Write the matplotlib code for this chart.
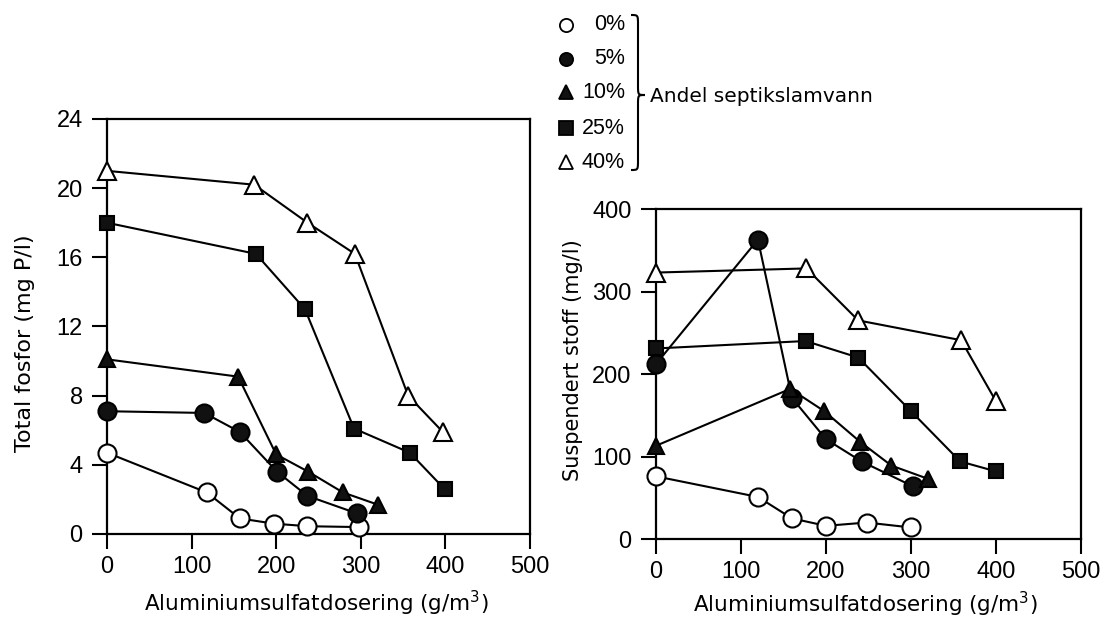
import matplotlib
matplotlib.use('Agg')
import matplotlib.pyplot as plt
from matplotlib.path import Path
from matplotlib.patches import PathPatch

plt.rcParams['font.family'] = ['Liberation Sans', 'DejaVu Sans']

shares = ['0%', '5%', '10%', '25%', '40%']
markers = ['o', 'o', '^', 's', '^']
faces = ['white', '#111111', '#111111', '#111111', 'white']
sizes = [13, 13, 12, 10, 12.5]

# Total fosfor (mg P/l) mot dosering (g/m3)
p_dose_0 = [0, 118, 157, 197, 237, 298]
p_val_0 = [4.7, 2.4, 0.9, 0.6, 0.45, 0.4]
p_dose_5 = [0, 115, 157, 201, 237, 295]
p_val_5 = [7.1, 7.0, 5.9, 3.6, 2.2, 1.2]
p_dose_10 = [0, 155, 200, 238, 279, 320]
p_val_10 = [10.1, 9.1, 4.6, 3.6, 2.4, 1.7]
p_dose_25 = [0, 176, 234, 292, 358, 399]
p_val_25 = [18.0, 16.2, 13.0, 6.1, 4.7, 2.6]
p_dose_40 = [0, 174, 237, 293, 356, 397]
p_val_40 = [21.0, 20.2, 18.0, 16.2, 8.0, 5.9]

# Suspendert stoff (mg/l) mot dosering (g/m3)
s_dose_0 = [0, 120, 160, 200, 248, 300]
s_val_0 = [76, 51, 25, 16, 20, 14]
s_dose_5 = [0, 120, 160, 200, 242, 302]
s_val_5 = [212, 363, 171, 121, 94, 64]
s_dose_10 = [0, 158, 198, 240, 277, 320]
s_val_10 = [113, 182, 155, 118, 89, 73]
s_dose_25 = [0, 176, 238, 300, 358, 400]
s_val_25 = [231, 240, 220, 155, 94, 82]
s_dose_40 = [0, 177, 238, 359, 400]
s_val_40 = [323, 328, 265, 241, 167]

p_series = [(p_dose_0, p_val_0), (p_dose_5, p_val_5), (p_dose_10, p_val_10),
            (p_dose_25, p_val_25), (p_dose_40, p_val_40)]
s_series = [(s_dose_0, s_val_0), (s_dose_5, s_val_5), (s_dose_10, s_val_10),
            (s_dose_25, s_val_25), (s_dose_40, s_val_40)]

fig = plt.figure(figsize=(11.08, 6.21), dpi=100)

# overlay in pixel coordinates for the legend block
lg = fig.add_axes([0, 0, 1, 1])
lg.set_xlim(0, 1108)
lg.set_ylim(621, 0)
lg.axis('off')

label_font = ['DejaVu Sans']


def style_axes(ax, ylim, yticks, ylabel, ysize, ylab_xy, xlab_xy):
    ax.set_xlim(0, 500)
    ax.set_ylim(*ylim)
    ax.set_xticks([0, 100, 200, 300, 400, 500])
    ax.set_yticks(yticks)
    ax.tick_params(direction='out', length=10.5, width=1.5, labelsize=17)
    ax.tick_params(axis='x', pad=5)
    ax.tick_params(axis='y', pad=7)
    for sp in ax.spines.values():
        sp.set_linewidth(1.6)
    ax.set_xlabel('Aluminiumsulfatdosering (g/m$^3$)', fontsize=15.5, family=label_font)
    ax.set_ylabel(ylabel, fontsize=ysize, family=label_font)
    ax.yaxis.set_label_coords(*ylab_xy)
    ax.xaxis.set_label_coords(*xlab_xy)
    ax.patch.set_alpha(0)


def draw(ax, series):
    for (x, y), m, fc, ms in zip(series, markers, faces, sizes):
        ax.plot(x, y, color='black', lw=1.5, marker=m, markersize=ms,
                markerfacecolor=fc, markeredgecolor='black', markeredgewidth=1.5,
                clip_on=False, zorder=3)


ax1 = fig.add_axes([0.0966, 0.1401, 0.3817, 0.6683])
draw(ax1, p_series)
style_axes(ax1, (0, 24), [0, 4, 8, 12, 16, 20, 24], 'Total fosfor (mg P/l)', 16,
           (-0.170, 0.46), (0.494, -0.132))

ax2 = fig.add_axes([0.592, 0.132, 0.3836, 0.5314])
draw(ax2, s_series)
style_axes(ax2, (0, 400), [0, 100, 200, 300, 400], 'Suspendert stoff (mg/l)', 15,
           (-0.172, 0.542), (0.492, -0.155))

# legend rows
row_y = [25, 59, 92, 128, 162]
for lab, m, fc, yy in zip(shares, markers, faces, row_y):
    lg.plot([566], [yy], marker=m, markersize=9.5, markerfacecolor=fc,
            markeredgecolor='black', markeredgewidth=1.3, linestyle='none')
    lg.text(625, yy, lab, ha='right', va='center', fontsize=15.5)

# curly brace
x0, x1, xm = 631, 645, 638
y0, y1, ym, d = 15, 170, 95, 10
verts = [(x0, y0), (xm, y0), (xm, y0), (xm, y0 + d),
         (xm, ym - d),
         (xm, ym), (xm, ym), (x1, ym),
         (xm, ym), (xm, ym), (xm, ym + d),
         (xm, y1 - d),
         (xm, y1), (xm, y1), (x0, y1)]
codes = [Path.MOVETO, Path.CURVE4, Path.CURVE4, Path.CURVE4,
         Path.LINETO,
         Path.CURVE4, Path.CURVE4, Path.CURVE4,
         Path.CURVE4, Path.CURVE4, Path.CURVE4,
         Path.LINETO,
         Path.CURVE4, Path.CURVE4, Path.CURVE4]
lg.add_patch(PathPatch(Path(verts, codes), fill=False, lw=1.5, edgecolor='black'))
lg.text(650, 97, 'Andel septikslamvann', ha='left', va='center', fontsize=14.5,
        family=label_font)

fig.savefig('out.png', dpi=100)
